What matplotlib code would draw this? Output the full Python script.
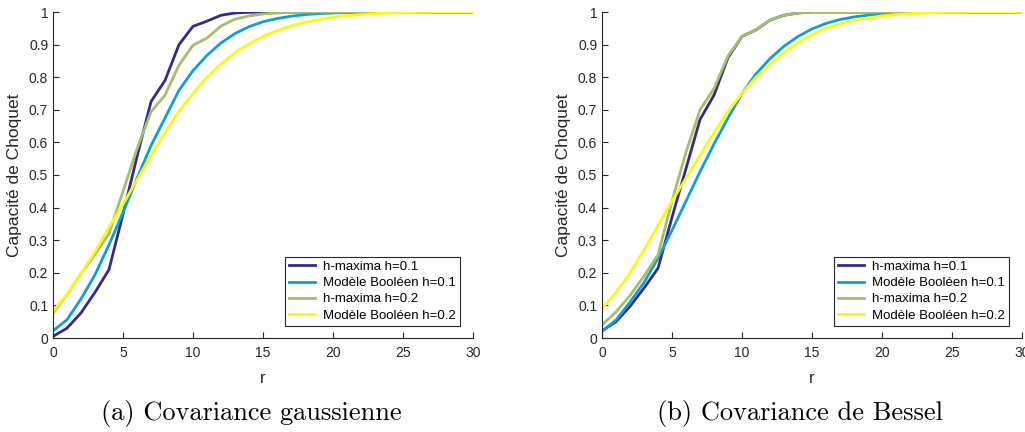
import matplotlib.pyplot as plt
from matplotlib.ticker import FuncFormatter

# rayon r
r = list(range(31))

# (a) covariance gaussienne
gauss_hmax_01 = [0.005, 0.03, 0.077, 0.14, 0.21, 0.38, 0.556, 0.725, 0.79, 0.90, 0.956,
                 0.972, 0.99, 0.997, 0.999, 1.0, 1.0, 1.0, 1.0, 1.0, 1.0,
                 1.0, 1.0, 1.0, 1.0, 1.0, 1.0, 1.0, 1.0, 1.0, 1.0]
gauss_bool_01 = [0.022, 0.056, 0.12, 0.194, 0.286, 0.385, 0.49, 0.59, 0.675, 0.76, 0.82,
                 0.867, 0.905, 0.934, 0.955, 0.97, 0.98, 0.987, 0.992, 0.995, 0.997,
                 0.998, 0.999, 1.0, 1.0, 1.0, 1.0, 1.0, 1.0, 1.0, 1.0]
gauss_hmax_02 = [0.077, 0.133, 0.197, 0.257, 0.32, 0.45, 0.58, 0.694, 0.745, 0.837, 0.898,
                 0.92, 0.957, 0.978, 0.988, 0.994, 0.997, 0.999, 1.0, 1.0, 1.0,
                 1.0, 1.0, 1.0, 1.0, 1.0, 1.0, 1.0, 1.0, 1.0, 1.0]
gauss_bool_02 = [0.082, 0.135, 0.198, 0.265, 0.34, 0.41, 0.485, 0.56, 0.63, 0.695, 0.75,
                 0.80, 0.84, 0.875, 0.902, 0.925, 0.943, 0.957, 0.968, 0.977, 0.984,
                 0.989, 0.992, 0.995, 0.997, 0.998, 0.999, 1.0, 1.0, 1.0, 1.0]

# (b) covariance de Bessel
bessel_hmax_01 = [0.022, 0.05, 0.097, 0.153, 0.214, 0.37, 0.52, 0.67, 0.745, 0.86, 0.925,
                  0.945, 0.975, 0.99, 0.997, 1.0, 1.0, 1.0, 1.0, 1.0, 1.0,
                  1.0, 1.0, 1.0, 1.0, 1.0, 1.0, 1.0, 1.0, 1.0, 1.0]
bessel_bool_01 = [0.02, 0.055, 0.11, 0.17, 0.245, 0.33, 0.42, 0.51, 0.595, 0.675, 0.75,
                  0.81, 0.857, 0.895, 0.925, 0.948, 0.965, 0.977, 0.985, 0.99, 0.994,
                  0.996, 0.998, 0.999, 1.0, 1.0, 1.0, 1.0, 1.0, 1.0, 1.0]
bessel_hmax_02 = [0.04, 0.08, 0.13, 0.19, 0.255, 0.42, 0.57, 0.70, 0.765, 0.865, 0.925,
                  0.945, 0.975, 0.99, 0.997, 1.0, 1.0, 1.0, 1.0, 1.0, 1.0,
                  1.0, 1.0, 1.0, 1.0, 1.0, 1.0, 1.0, 1.0, 1.0, 1.0]
bessel_bool_02 = [0.09, 0.14, 0.20, 0.27, 0.345, 0.42, 0.49, 0.56, 0.63, 0.695, 0.75,
                  0.80, 0.84, 0.875, 0.905, 0.93, 0.95, 0.963, 0.974, 0.982, 0.988,
                  0.992, 0.995, 0.997, 0.998, 0.999, 1.0, 1.0, 1.0, 1.0, 1.0]

labels = ['h-maxima h=0.1', 'Modèle Booléen h=0.1', 'h-maxima h=0.2', 'Modèle Booléen h=0.2']
colors = ['#352a87', '#0f9fd3', '#a5be6b', '#f9fb0e']
captions = ['(a) Covariance gaussienne', '(b) Covariance de Bessel']

panels = [
    [gauss_hmax_01, gauss_bool_01, gauss_hmax_02, gauss_bool_02],
    [bessel_hmax_01, bessel_bool_01, bessel_hmax_02, bessel_bool_02],
]

plt.rcParams['font.family'] = ['Liberation Sans', 'DejaVu Sans']

fig = plt.figure(figsize=(10.25, 4.32), dpi=100)
lefts = [53 / 1025, 602 / 1025]
grey = '#262626'

for left, series, cap in zip(lefts, panels, captions):
    ax = fig.add_axes([left, 94 / 432, 420 / 1025, 326 / 432])
    for ys, lab, c in zip(series, labels, colors):
        ax.plot(r, ys, color=c, lw=2, label=lab)
    ax.set_xlim(0, 30)
    ax.set_ylim(0, 1)
    ax.set_xticks(range(0, 31, 5))
    ax.set_yticks([i / 10 for i in range(11)])
    ax.yaxis.set_major_formatter(FuncFormatter(lambda v, p: '%g' % round(v, 1)))
    ax.spines['top'].set_visible(False)
    ax.spines['right'].set_visible(False)
    for s in ['left', 'bottom']:
        ax.spines[s].set_color(grey)
        ax.spines[s].set_linewidth(0.8)
    ax.tick_params(direction='in', length=4, width=0.8, colors=grey, labelsize=10,
                   labelcolor=grey)
    ax.tick_params(axis='x', pad=6)
    ax.set_xlabel('r', fontsize=12, color=grey, labelpad=8)
    ax.set_ylabel('Capacité de Choquet', fontsize=12.5, color=grey, labelpad=5)
    leg = ax.legend(loc='lower right', fontsize=9.5, fancybox=False, framealpha=1,
                    edgecolor=grey, handlelength=2.0, handletextpad=0.6, borderpad=0.3,
                    labelspacing=0.3, bbox_to_anchor=(0.985, 0.018))
    leg.get_frame().set_linewidth(0.8)
    ax.text(0.471, -0.233, cap, transform=ax.transAxes, ha='center', va='center',
            fontsize=19, family='cmr10')

fig.savefig('out.png', dpi=100)
